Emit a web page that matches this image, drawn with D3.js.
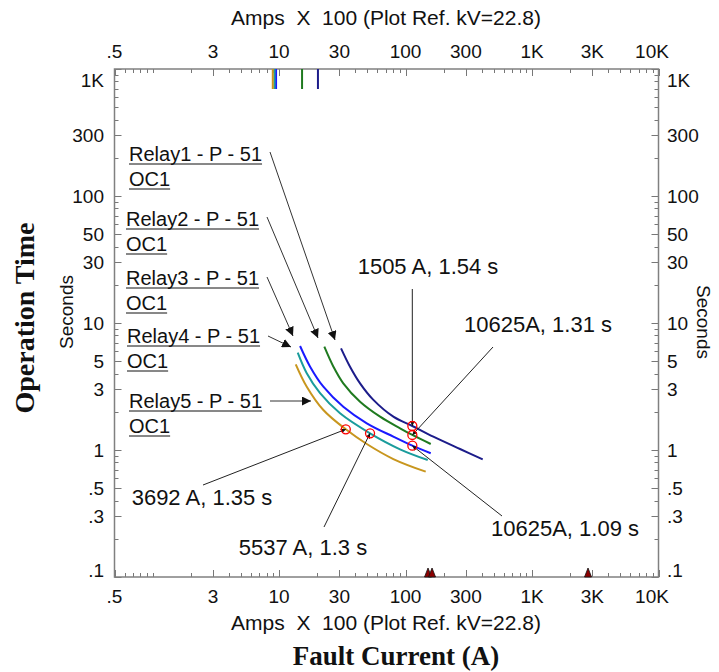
<!DOCTYPE html>
<html>
<head>
<meta charset="utf-8">
<script src="https://cdn.jsdelivr.net/npm/d3@7"></script>
<style>
  body { margin: 0; background: #fff; }
  text { font-family: "Liberation Sans", Arial, sans-serif; fill: #111; }
</style>
</head>
<body>
<div id="chart"></div>
<script>
// fault current in Amps x 100, operation time in seconds
const relayNames = ["Relay1 - P - 51", "Relay2 - P - 51", "Relay3 - P - 51", "Relay4 - P - 51", "Relay5 - P - 51"];
const relay1Current = [30.9, 36.4, 43.7, 55.7, 80.1, 113.2, 165.9, 269.7, 407.6];
const relay1Time = [6.32, 4.53, 3.35, 2.48, 1.83, 1.545, 1.273, 1.018, 0.845];
const relay2Current = [22.8, 26.9, 32.2, 43.7, 62.9, 90.5, 113.2, 158.2];
const relay2Time = [6.51, 4.53, 3.35, 2.40, 1.83, 1.482, 1.313, 1.115];
const relay3Current = [14.66, 17.6, 22.4, 32.2, 49.4, 80.1, 113.2, 158.2];
const relay3Time = [6.59, 4.53, 3.15, 2.19, 1.623, 1.273, 1.081, 0.942];
const relay4Current = [14.05, 16.56, 21.1, 30.35, 52.4, 90.5, 149.8];
const relay4Time = [5.84, 4.02, 2.80, 1.945, 1.353, 1.013, 0.834];
const relay5Current = [13.55, 16.56, 22.4, 33.7, 49.4, 80.1, 144.4];
const relay5Time = [4.73, 3.15, 2.065, 1.455, 1.115, 0.849, 0.675];

// pickup marks on the top border (same relay order)
const pickupCurrent = [20.3, 15.2, 9.47, 9.2, 8.92];

// fault markers on the bottom border
const faultCurrent = [150.6, 162, 2772];

// operating points: current, time, label
const opCurrent = [113.2, 113.2, 113.2, 33.7, 52.4];
const opTime = [1.545, 1.313, 1.081, 1.455, 1.353];
const opLabels = ["1505 A, 1.54 s", "10625A, 1.31 s", "10625A, 1.09 s", "3692 A, 1.35 s", "5537 A, 1.3 s"];

const xTickValues = [0.5, 3, 10, 30, 100, 300, 1000, 3000, 10000];
const xTickLabels = [".5", "3", "10", "30", "100", "300", "1K", "3K", "10K"];
const yTickValues = [0.1, 0.3, 0.5, 1, 3, 5, 10, 30, 50, 100, 300, 1000];
const yTickLabels = [".1", ".3", ".5", "1", "3", "5", "10", "30", "50", "100", "300", "1K"];

const relays = [
  { current: relay1Current, time: relay1Time, color: "#1c1c8a" },
  { current: relay2Current, time: relay2Time, color: "#1f7a1f" },
  { current: relay3Current, time: relay3Time, color: "#1a1aff" },
  { current: relay4Current, time: relay4Time, color: "#1a9c9c" },
  { current: relay5Current, time: relay5Time, color: "#c8961e" }
];

// label layout (pixels)
const relayLabelPos = [
  { x: 129, y: 161, from: [270, 152], to: [335, 340] },
  { x: 126, y: 226, from: [267, 217], to: [318, 338] },
  { x: 126, y: 285, from: [267, 277], to: [293, 336] },
  { x: 127, y: 343, from: [268, 336], to: [291, 347] },
  { x: 129, y: 408, from: [270, 401], to: [311, 401] }
];
const opLabelPos = [
  { x: 428, y: 274, from: [412.3, 289] },
  { x: 538, y: 332, from: [493, 347] },
  { x: 565, y: 536, from: [502, 516] },
  { x: 202, y: 505, from: [203, 485] },
  { x: 303, y: 555, from: [324, 527] }
];

const width = 719;
const height = 672;
const plotLeft = 114.5, plotRight = 658.5, plotTop = 69, plotBottom = 577;

const x = d3.scaleLog().domain([0.5, 10000]).range([plotLeft, plotRight]);
const y = d3.scaleLog().domain([0.1, 1000]).range([plotBottom, plotTop]);

const svg = d3
  .select("#chart")
  .append("svg")
  .attr("width", width)
  .attr("height", height);

const defs = svg.append("defs");
defs
  .append("marker")
  .attr("id", "arrow")
  .attr("viewBox", "0 0 10 10")
  .attr("refX", 10)
  .attr("refY", 5)
  .attr("markerWidth", 9)
  .attr("markerHeight", 9)
  .attr("markerUnits", "userSpaceOnUse")
  .attr("orient", "auto")
  .append("path")
  .attr("d", "M0,0L10,5L0,10z")
  .attr("fill", "#111");
defs
  .append("marker")
  .attr("id", "arrowSmall")
  .attr("viewBox", "0 0 10 10")
  .attr("refX", 10)
  .attr("refY", 5)
  .attr("markerWidth", 5)
  .attr("markerHeight", 5)
  .attr("markerUnits", "userSpaceOnUse")
  .attr("orient", "auto")
  .append("path")
  .attr("d", "M0,0L10,5L0,10z")
  .attr("fill", "#111");

// log ticks: every 1..9 x 10^k inside the domain
function logTicks(lo, hi) {
  const out = [];
  for (let k = -2; k <= 5; k++) {
    for (let m = 1; m <= 9; m++) {
      const v = m * Math.pow(10, k);
      if (v >= lo * 0.999 && v <= hi * 1.001) out.push(v);
    }
  }
  return out;
}
const isMajor = (v, list) => list.some(t => Math.abs(t - v) / t < 1e-6);

const ticks = svg.append("g").attr("stroke", "#777").attr("stroke-width", 1);

logTicks(0.5, 10000).forEach(v => {
  const len = isMajor(v, xTickValues) ? 7 : 4;
  const px = Math.round(x(v)) + 0.5;
  ticks.append("line").attr("x1", px).attr("x2", px).attr("y1", plotTop).attr("y2", plotTop + len);
  ticks.append("line").attr("x1", px).attr("x2", px).attr("y1", plotBottom).attr("y2", plotBottom - len);
});
logTicks(0.1, 1000).forEach(v => {
  const len = isMajor(v, yTickValues) ? 7 : 4;
  const py = Math.round(y(v)) + 0.5;
  ticks.append("line").attr("x1", plotLeft).attr("x2", plotLeft + len).attr("y1", py).attr("y2", py);
  ticks.append("line").attr("x1", plotRight).attr("x2", plotRight - len).attr("y1", py).attr("y2", py);
});

// frame
svg
  .append("rect")
  .attr("x", plotLeft)
  .attr("y", plotTop)
  .attr("width", plotRight - plotLeft)
  .attr("height", plotBottom - plotTop)
  .attr("fill", "none")
  .attr("stroke", "#808080")
  .attr("stroke-width", 1.5);

// tick labels
const clamp = (v, a, b) => Math.max(a, Math.min(b, v));
xTickValues.forEach((v, i) => {
  const px = clamp(x(v), 113, 652);
  [58, 603].forEach(ty => {
    svg.append("text")
      .attr("x", px)
      .attr("y", ty)
      .attr("text-anchor", "middle")
      .attr("font-size", 19)
      .text(xTickLabels[i]);
  });
});
yTickValues.forEach((v, i) => {
  const py = clamp(y(v), 80, 570);
  svg.append("text")
    .attr("x", 104)
    .attr("y", py)
    .attr("dy", "0.36em")
    .attr("text-anchor", "end")
    .attr("font-size", 19)
    .text(yTickLabels[i]);
  svg.append("text")
    .attr("x", 667)
    .attr("y", py)
    .attr("dy", "0.36em")
    .attr("text-anchor", "start")
    .attr("font-size", 19)
    .text(yTickLabels[i]);
});

// axis titles
const ampsTitle = "Amps\u00a0\u00a0X\u00a0\u00a0100 (Plot Ref. kV=22.8)";
[25, 630].forEach(ty => {
  svg.append("text")
    .attr("x", 386)
    .attr("y", ty)
    .attr("text-anchor", "middle")
    .attr("font-size", 21)
    .text(ampsTitle);
});
svg.append("text")
  .attr("transform", "translate(73,312) rotate(-90)")
  .attr("text-anchor", "middle")
  .attr("font-size", 19)
  .text("Seconds");
svg.append("text")
  .attr("transform", "translate(697,322) rotate(90)")
  .attr("text-anchor", "middle")
  .attr("font-size", 19)
  .text("Seconds");
svg.append("text")
  .attr("transform", "translate(34,318) rotate(-90)")
  .attr("text-anchor", "middle")
  .attr("font-size", 28)
  .attr("font-weight", "bold")
  .style("font-family", "'Liberation Serif', 'Times New Roman', serif")
  .text("Operation Time");
svg.append("text")
  .attr("x", 396)
  .attr("y", 665)
  .attr("text-anchor", "middle")
  .attr("font-size", 27)
  .attr("font-weight", "bold")
  .style("font-family", "'Liberation Serif', 'Times New Roman', serif")
  .text("Fault Current (A)");

// pickup marks at the top
svg
  .selectAll(".pickup")
  .data(pickupCurrent)
  .enter()
  .append("line")
  .attr("class", "pickup")
  .attr("x1", d => x(d))
  .attr("x2", d => x(d))
  .attr("y1", plotTop)
  .attr("y2", plotTop + 20)
  .attr("stroke", (d, i) => relays[i].color)
  .attr("stroke-width", 2);

// fault markers at the bottom
svg
  .selectAll(".fault")
  .data(faultCurrent)
  .enter()
  .append("path")
  .attr("class", "fault")
  .attr("transform", d => `translate(${x(d)},${plotBottom})`)
  .attr("d", "M-3.5,0L0,-9L3.5,0z")
  .attr("fill", "#8b0000")
  .attr("stroke", "#111")
  .attr("stroke-width", 0.8);

// relay curves
const line = d3
  .line()
  .x(d => x(d[0]))
  .y(d => y(d[1]))
  .curve(d3.curveCatmullRom);

svg
  .selectAll(".curve")
  .data(relays)
  .enter()
  .append("path")
  .attr("class", "curve")
  .attr("d", r => line(d3.zip(r.current, r.time)))
  .attr("fill", "none")
  .attr("stroke", r => r.color)
  .attr("stroke-width", 2);

// relay labels with arrows
relayNames.forEach((name, i) => {
  const p = relayLabelPos[i];
  const g = svg.append("g");
  [name, "OC1"].forEach((t, j) => {
    const tx = g.append("text")
      .attr("x", p.x)
      .attr("y", p.y + j * 25)
      .attr("font-size", 20)
      .text(t);
    const w = tx.node().getComputedTextLength();
    g.append("line")
      .attr("x1", p.x)
      .attr("x2", p.x + w)
      .attr("y1", p.y + j * 25 + 3)
      .attr("y2", p.y + j * 25 + 3)
      .attr("stroke", "#111")
      .attr("stroke-width", 1);
  });
  g.append("line")
    .attr("x1", p.from[0])
    .attr("y1", p.from[1])
    .attr("x2", p.to[0])
    .attr("y2", p.to[1])
    .attr("stroke", "#333")
    .attr("stroke-width", 1)
    .attr("marker-end", "url(#arrow)");
});

// operating points
opLabels.forEach((label, i) => {
  const p = opLabelPos[i];
  const cx = x(opCurrent[i]);
  const cy = y(opTime[i]);
  svg.append("line")
    .attr("x1", p.from[0])
    .attr("y1", p.from[1])
    .attr("x2", cx)
    .attr("y2", cy)
    .attr("stroke", "#222")
    .attr("stroke-width", 1)
    .attr("marker-end", "url(#arrowSmall)");
  svg.append("text")
    .attr("x", p.x)
    .attr("y", p.y)
    .attr("text-anchor", "middle")
    .attr("font-size", 22)
    .text(label);
});

svg
  .selectAll(".op")
  .data(opCurrent)
  .enter()
  .append("circle")
  .attr("class", "op")
  .attr("cx", d => x(d))
  .attr("cy", (d, i) => y(opTime[i]))
  .attr("r", 4.5)
  .attr("fill", "none")
  .attr("stroke", "#ff0000")
  .attr("stroke-width", 1.3);
</script>
</body>
</html>
